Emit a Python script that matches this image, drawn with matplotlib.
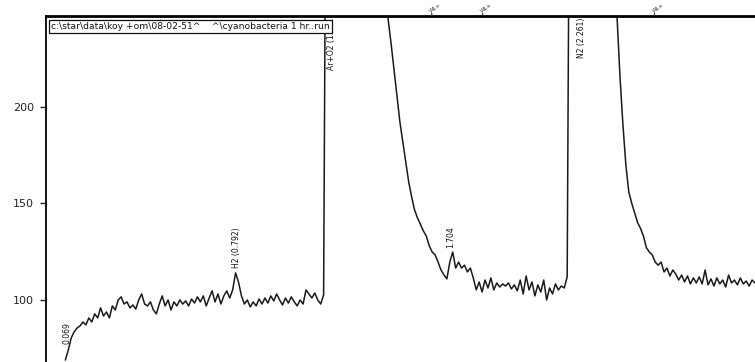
import numpy as np
import matplotlib.pyplot as plt

# ---- detector trace (mV), sampled every 0.0125 min from 0.0625 min ----
t_start = 0.0625
dt = 0.0125
signal = [
    # baseline + H2
    69.0, 74.1, 80.4, 83.5, 85.5, 86.6, 88.6, 87.1, 90.7, 88.6,
    92.8, 90.7, 95.9, 91.7, 93.8, 90.7, 96.9, 94.8, 100.0, 101.6,
    97.9, 99.0, 95.9, 97.4, 95.3, 100.0, 103.1, 97.9, 96.9, 99.0,
    94.8, 92.8, 97.9, 102.1, 96.9, 100.0, 94.8, 99.0, 96.9, 100.0,
    97.9, 99.5, 96.9, 100.5, 98.4, 101.6, 99.0, 102.1, 96.9, 101.0,
    104.7, 99.0, 103.1, 97.9, 102.1, 104.7, 101.0, 105.2, 114.0, 109.3,
    102.1, 97.9, 100.0, 96.4, 99.0, 96.9, 100.5, 97.9, 101.0, 98.4,
    102.1, 99.5, 103.1, 100.0, 97.4, 101.0, 98.4, 101.6, 99.0, 96.9,
    100.0, 97.9, 105.2, 103.1, 101.0, 103.6, 100.0, 97.9, 102.6,
    # Ar+O2 (off scale)
    400, 400, 400, 400, 400, 400, 400, 400, 400, 400,
    400, 400, 400, 400, 400, 400, 400, 400, 400, 400, 400,
    # tail + 1.704
    245.0, 232.5, 219.0, 205.5, 192.0, 181.7, 171.3, 161.0, 153.3, 146.5,
    142.4, 139.0, 135.7, 133.0, 128.0, 124.8, 123.3, 119.6, 115.5, 113.0,
    110.9, 119.6, 124.8, 116.5, 119.6, 116.5, 118.0, 114.5, 116.5, 111.4,
    105.2, 109.3, 104.1, 110.3, 106.2, 111.4, 105.2, 108.8, 106.7, 108.3,
    107.2, 108.8, 105.7, 107.8, 104.7, 110.3, 103.1, 112.4, 105.2, 109.3,
    102.1, 107.8, 104.1, 110.3, 100.0, 106.2, 103.1, 108.3, 105.2, 107.2,
    106.2, 112.0,
    # N2 (off scale)
    400, 400, 400, 400, 400, 400, 400, 400,
    400, 400, 400, 400, 400, 400, 400, 400,
    # tail
    246.0, 215.3, 190.5, 169.8, 155.8, 150.0, 145.0, 140.0, 137.0, 133.0,
    127.0, 124.8, 123.3, 119.6, 118.0, 119.6, 114.5, 116.5, 112.4, 115.5,
    113.4, 110.3, 112.9, 109.3, 112.4, 108.3, 111.4, 108.8, 111.9, 108.3,
    115.5, 107.8, 110.9, 107.2, 111.4, 108.3, 110.3, 106.7, 112.9, 108.8,
    110.3, 107.8, 111.4, 108.3, 109.8, 107.2, 110.3, 108.8,
]
time = t_start + dt * np.arange(len(signal))

# peak labels: (time, y anchor, text)
peak_t = [0.069, 0.792, 1.197, 1.704, 2.261]
peak_y = [77.0, 116.5, 219.0, 127.0, 225.0]
peak_txt = ['0.069', 'H2 (0.792)', 'Ar+O2 (1.171)', '1.704', 'N2 (2.261)']

# timed events on top
event_t = [1.623, 1.840, 2.572]
event_txt = ['WL+', 'WL+', 'WL+']

header = r'c:\star\data\koy +om\08-02-51^    ^\cyanobacteria 1 hr..run'

fig = plt.figure(figsize=(7.55, 3.62), dpi=100)
fig.set_facecolor('white')
ax = fig.add_axes([46 / 755, 0, 1 - 46 / 755, 1 - 16 / 362])

ax.plot(time, signal, color='#1a1a1a', linewidth=1.1)

ax.set_xlim(-0.02, 3.0)
ax.set_ylim(67.9, 246.9)
ax.set_yticks([100, 150, 200])
ax.tick_params(axis='y', direction='out', length=4.5, width=1.0,
               pad=4, labelsize=8, colors='#222222')
ax.set_xticks([])

ax.spines['right'].set_visible(False)
ax.spines['bottom'].set_visible(False)
ax.spines['top'].set_linewidth(2.0)
ax.spines['left'].set_linewidth(1.3)

for x, y, s in zip(peak_t, peak_y, peak_txt):
    ax.text(x, y, s, rotation=90, ha='center', va='bottom',
            fontsize=5.5, color='#111111', clip_on=True, zorder=3)

# event marks above the top line
for x, s in zip(event_t, event_txt):
    ax.annotate('', xy=(x, 1.0), xycoords=('data', 'axes fraction'),
                xytext=(0, 4), textcoords='offset points',
                arrowprops=dict(arrowstyle='-', lw=0.8, color='#333333'),
                annotation_clip=False)
    ax.annotate(s, xy=(x, 1.0), xycoords=('data', 'axes fraction'),
                xytext=(-2, 1.5), textcoords='offset points', rotation=35,
                ha='left', va='bottom', fontsize=4, color='#333333',
                annotation_clip=False)

ax.text(0.007, 0.9697, header, transform=ax.transAxes, ha='left', va='center',
        fontsize=6.6, color='#111111', zorder=5,
        bbox=dict(boxstyle='square,pad=0.2', fc='white', ec='#111111', lw=0.9))

plt.savefig('out.png', dpi=100, facecolor='white')
